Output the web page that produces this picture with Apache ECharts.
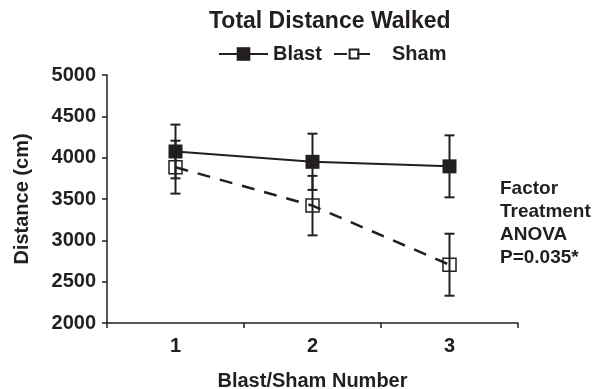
<!DOCTYPE html>
<html>
<head>
<meta charset="utf-8">
<script src="https://cdn.jsdelivr.net/npm/echarts@6/dist/echarts.min.js"></script>
<style>
html,body{margin:0;padding:0;background:#fff;}
#chart{width:595px;height:389px;}
</style>
</head>
<body>
<div id="chart"></div>
<script>
var categories = ['1', '2', '3'];
var blastMean = [4075, 3950, 3895];
var blastErr = [325, 340, 375];
var shamMean = [3885, 3420, 2705];
var shamErr = [320, 360, 375];
var yTicks = {min: 2000, max: 5000, interval: 500};
var annotation = ['Factor', 'Treatment', 'ANOVA', 'P=0.035*'];

var ink = '#231f20';
var font = '"Liberation Sans", Arial, sans-serif';

function errData(mean, err) {
  return mean.map(function (m, i) { return [i, m - err[i], m + err[i]]; });
}
function errRender(params, api) {
  var x = api.value(0);
  var lo = api.coord([x, api.value(1)]);
  var hi = api.coord([x, api.value(2)]);
  var hw = 5;
  var st = {stroke: ink, lineWidth: 2, fill: null};
  return {
    type: 'group',
    children: [
      {type: 'line', shape: {x1: hi[0], y1: hi[1], x2: lo[0], y2: lo[1]}, style: st},
      {type: 'line', shape: {x1: hi[0] - hw, y1: hi[1], x2: hi[0] + hw, y2: hi[1]}, style: st},
      {type: 'line', shape: {x1: lo[0] - hw, y1: lo[1], x2: lo[0] + hw, y2: lo[1]}, style: st}
    ]
  };
}

var chart = echarts.init(document.getElementById('chart'), null, {renderer: 'canvas'});
chart.setOption({
  animation: false,
  backgroundColor: '#fff',
  title: {
    text: 'Total Distance Walked',
    left: 204, top: 5,
    textStyle: {fontFamily: font, fontWeight: 'bold', fontSize: 23, color: ink}
  },
  legend: [
    {
      data: ['Blast'], left: 213, top: 39,
      itemWidth: 49, itemHeight: 17, itemGap: 0,
      textStyle: {fontFamily: font, fontWeight: 'bold', fontSize: 20, color: ink}
    },
    {
      data: ['Sham'], left: 328, top: 39,
      itemWidth: 40, itemHeight: 11, itemGap: 0,
      textStyle: {fontFamily: font, fontWeight: 'bold', fontSize: 20, color: ink, padding: [0, 0, 0, 13]}
    }
  ],
  grid: {left: 107, right: 77, top: 75, bottom: 66, containLabel: false, outerBoundsMode: 'none'},
  xAxis: {
    type: 'category',
    data: categories,
    boundaryGap: true,
    name: 'Blast/Sham Number',
    nameLocation: 'middle',
    nameGap: 48,
    nameTextStyle: {fontFamily: font, fontWeight: 'bold', fontSize: 20, color: ink},
    axisLine: {lineStyle: {color: ink, width: 1.5}},
    axisTick: {show: true, length: 5, lineStyle: {color: ink, width: 1.5}},
    axisLabel: {fontFamily: font, fontWeight: 'bold', fontSize: 20, color: ink, margin: 13},
    splitLine: {show: false}
  },
  yAxis: {
    type: 'value',
    min: yTicks.min, max: yTicks.max, interval: yTicks.interval,
    name: 'Distance (cm)',
    nameLocation: 'middle',
    nameGap: 75,
    nameRotate: 90,
    nameTextStyle: {fontFamily: font, fontWeight: 'bold', fontSize: 20, color: ink},
    axisLine: {show: true, lineStyle: {color: ink, width: 1.5}},
    axisTick: {show: true, length: 5, lineStyle: {color: ink, width: 1.5}},
    axisLabel: {fontFamily: font, fontWeight: 'bold', fontSize: 20, color: ink, margin: 11,
      formatter: function (v) { return String(v); }},
    splitLine: {show: false}
  },
  series: [
    {
      name: 'Blast err', type: 'custom', z: 1,
      renderItem: errRender, data: errData(blastMean, blastErr),
      encode: {x: 0, y: [1, 2]}, silent: true
    },
    {
      name: 'Sham err', type: 'custom', z: 1,
      renderItem: errRender, data: errData(shamMean, shamErr),
      encode: {x: 0, y: [1, 2]}, silent: true
    },
    {
      name: 'Sham', type: 'line', z: 3,
      data: shamMean,
      symbol: 'rect', symbolSize: 13,
      lineStyle: {color: ink, width: 2.5, type: [13, 10]},
      itemStyle: {color: 'rgba(255,255,255,0)', borderColor: ink, borderWidth: 1.5}
    },
    {
      name: 'Blast', type: 'line', z: 4,
      data: blastMean,
      symbol: 'rect', symbolSize: 14,
      lineStyle: {color: ink, width: 2},
      itemStyle: {color: ink, borderColor: ink, borderWidth: 0}
    }
  ],
  graphic: [
    {
      type: 'text', left: 500, top: 177,
      style: {
        text: annotation.join('\n'),
        font: 'bold 19px ' + font,
        fill: ink,
        lineHeight: 23
      }
    }
  ]
});
</script>
</body>
</html>
